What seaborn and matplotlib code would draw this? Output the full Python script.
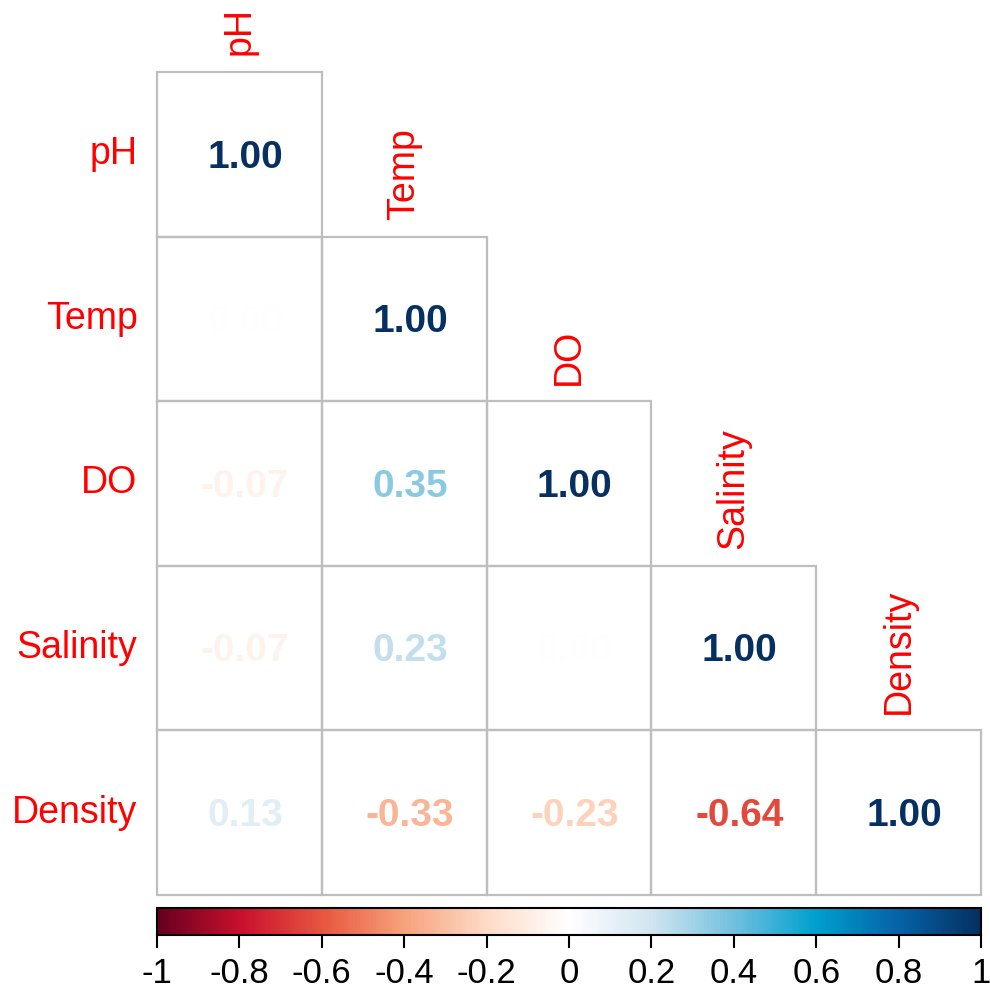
import numpy as np
import pandas as pd
import matplotlib
matplotlib.use("Agg")
import matplotlib.pyplot as plt
from matplotlib.colors import LinearSegmentedColormap, ListedColormap, Normalize
from matplotlib.patches import Rectangle
import seaborn as sns

variables = ["pH", "Temp", "DO", "Salinity", "Density"]
corr_values = [
    [1.00, 0.00, -0.07, -0.07, 0.13],
    [0.00, 1.00, 0.35, 0.23, -0.33],
    [-0.07, 0.35, 1.00, 0.00, -0.23],
    [-0.07, 0.23, 0.00, 1.00, -0.64],
    [0.13, -0.33, -0.23, -0.64, 1.00],
]
cbar_ticks = [-1, -0.8, -0.6, -0.4, -0.2, 0, 0.2, 0.4, 0.6, 0.8, 1]
cbar_ticklabels = ["-1", "-0.8", "-0.6", "-0.4", "-0.2", "0", "0.2", "0.4", "0.6", "0.8", "1"]

palette = ["#67001F", "#C8102E", "#E8563F", "#F7A27C", "#FDDBC7", "#FFFFFF",
           "#D1E5F0", "#72C0DE", "#00A0CF", "#0563A8", "#053061"]
cmap = LinearSegmentedColormap.from_list("corr", palette, N=256)
norm = Normalize(-1, 1)

sns.set_style("white")
plt.rcParams["font.family"] = ["Liberation Sans", "DejaVu Sans"]

df = pd.DataFrame(corr_values, index=variables, columns=variables)
mask = np.triu(np.ones_like(df, dtype=bool), k=1)

fig = plt.figure(figsize=(9.9, 9.9), dpi=100)
ax = fig.add_axes([0.1586, 0.0960, 0.8323, 0.8313])
sns.heatmap(df, mask=mask, cmap=ListedColormap(["white"]), cbar=False,
            linewidths=0, annot=True, fmt=".2f",
            annot_kws={"fontsize": 28, "fontweight": "bold"}, ax=ax)

for t in ax.texts:
    v = float(t.get_text())
    t.set_color(cmap(norm(v)))
    x, y = t.get_position()
    t.set_position((x + 0.035, y + 0.02))

n = len(variables)
for i in range(n):
    for j in range(i + 1):
        ax.add_patch(Rectangle((j, i), 1, 1, facecolor="none",
                               edgecolor="#BEBEBE", linewidth=1.6, zorder=3,
                               clip_on=False))

ax.set_xticks([])
ax.set_xlabel("")
ax.set_ylabel("")
ax.set_yticklabels(variables, rotation=0, fontsize=27, color="red")
ax.tick_params(axis="y", length=0, pad=14)
for s in ax.spines.values():
    s.set_visible(False)

for j, name in enumerate(variables):
    ax.annotate(name, xy=(j + 0.5, j), xytext=(0, 12), textcoords="offset points",
                rotation=90, ha="center", va="bottom", fontsize=27, color="red",
                annotation_clip=False)

cax = fig.add_axes([0.1586, 0.0556, 0.8323, 0.0273])
cb = matplotlib.colorbar.ColorbarBase(cax, cmap=cmap, norm=norm, orientation="horizontal")
cb.set_ticks(cbar_ticks)
cb.set_ticklabels(cbar_ticklabels)
cb.outline.set_linewidth(1.5)
cb.outline.set_edgecolor("black")
cax.tick_params(axis="x", length=9, width=1.5, labelsize=25, pad=7,
                direction="out", colors="black", labelcolor="black")

fig.savefig("out.png", dpi=100, facecolor="white")
